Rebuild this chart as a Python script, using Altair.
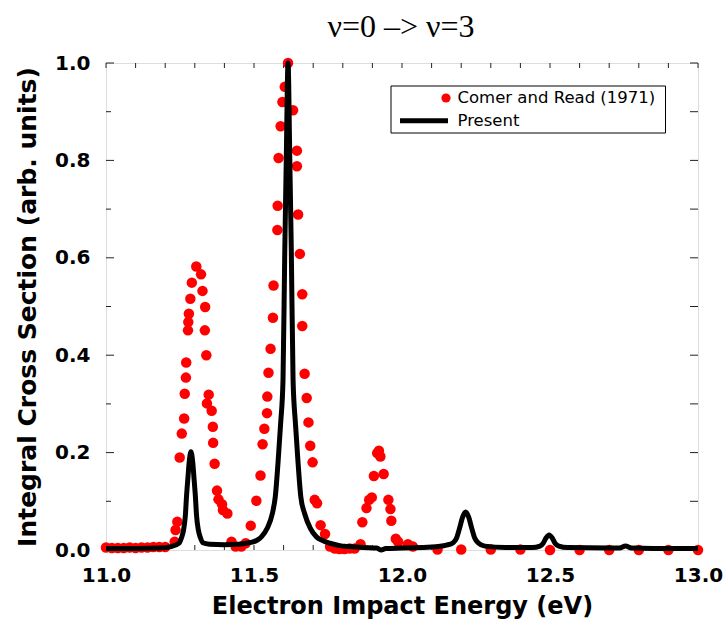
import altair as alt
import pandas as pd

# ---------------- data ----------------
exp_energy = [
    11.00, 11.02, 11.04, 11.06, 11.08, 11.10, 11.12, 11.14, 11.16, 11.18, 11.20,
    11.232, 11.235, 11.241, 11.249, 11.256, 11.264, 11.266, 11.270, 11.271,
    11.277, 11.278, 11.280, 11.285, 11.290, 11.305, 11.321, 11.326, 11.335,
    11.334, 11.339, 11.347, 11.341, 11.357, 11.361, 11.362, 11.367, 11.375,
    11.380, 11.392, 11.395, 11.410, 11.424, 11.438, 11.457, 11.472,
    11.489, 11.508, 11.522, 11.529, 11.535, 11.544, 11.545, 11.549, 11.556,
    11.564, 11.566, 11.579, 11.580, 11.583, 11.590, 11.596, 11.604, 11.615,
    11.632, 11.645, 11.645, 11.649, 11.655, 11.663, 11.663, 11.671, 11.678,
    11.684, 11.690, 11.698, 11.705, 11.713, 11.725, 11.740, 11.757,
    11.773, 11.789, 11.806, 11.823, 11.840, 11.860,
    11.866, 11.880, 11.889, 11.898, 11.905, 11.916, 11.922, 11.927, 11.938,
    11.954, 11.961, 11.964, 11.979, 11.987, 12.020, 12.037,
    12.12, 12.20, 12.30, 12.40, 12.50, 12.60, 12.70, 12.80, 12.90, 13.00,
]
exp_value = [
    0.005, 0.004, 0.004, 0.004, 0.005, 0.004, 0.005, 0.005, 0.006, 0.006, 0.006,
    0.017, 0.041, 0.058, 0.190, 0.239, 0.270, 0.321, 0.354, 0.385,
    0.451, 0.468, 0.485, 0.516, 0.549, 0.582, 0.566, 0.532, 0.499,
    0.451, 0.400, 0.319, 0.301, 0.286, 0.253, 0.220, 0.177, 0.122,
    0.104, 0.094, 0.082, 0.075, 0.017, 0.007, 0.007, 0.014,
    0.050, 0.101, 0.153, 0.217, 0.249, 0.281, 0.315, 0.364, 0.413,
    0.477, 0.543, 0.657, 0.707, 0.805, 0.870, 0.920, 0.951, 1.000,
    0.903, 0.820, 0.788, 0.689, 0.608, 0.525, 0.460, 0.362, 0.312,
    0.262, 0.214, 0.180, 0.103, 0.096, 0.051, 0.033, 0.007,
    0.003, 0.002, 0.002, 0.003, 0.003, 0.012,
    0.057, 0.086, 0.103, 0.108, 0.152, 0.199, 0.204, 0.192, 0.156,
    0.103, 0.084, 0.060, 0.023, 0.017, 0.012, 0.007,
    0.001, 0.001, 0.001, 0.001, 0.000, 0.000, 0.000, 0.000, 0.000, 0.000,
]

calc_energy = [
    11.00, 11.10, 11.18, 11.22, 11.247, 11.255, 11.262, 11.268, 11.272, 11.277,
    11.281, 11.287, 11.293, 11.297, 11.302, 11.306, 11.312, 11.319, 11.327,
    11.35, 11.40, 11.45, 11.485, 11.51, 11.525, 11.545, 11.562, 11.572, 11.581,
    11.590, 11.598, 11.604, 11.609, 11.615, 11.621, 11.626, 11.632, 11.640,
    11.649, 11.658, 11.671, 11.69, 11.711, 11.73, 11.756, 11.79, 11.823,
    11.87, 11.915, 11.93, 11.945, 12.00, 12.10, 12.15, 12.173, 12.184, 12.195,
    12.205, 12.215, 12.225, 12.235, 12.246, 12.257, 12.28, 12.35, 12.44,
    12.466, 12.477, 12.487, 12.497, 12.507, 12.517, 12.53, 12.56, 12.70,
    12.735, 12.755, 12.775, 12.85, 13.00,
]
calc_value = [
    0.003, 0.003, 0.004, 0.007, 0.014, 0.025, 0.041, 0.070, 0.110, 0.150,
    0.180, 0.202, 0.180, 0.150, 0.110, 0.070, 0.041, 0.025, 0.015,
    0.012, 0.011, 0.012, 0.015, 0.020, 0.027, 0.045, 0.075, 0.110, 0.178,
    0.260, 0.349, 0.616, 0.800, 1.000, 0.800, 0.616, 0.349, 0.260,
    0.178, 0.110, 0.075, 0.045, 0.027, 0.020, 0.014, 0.009, 0.007,
    0.005, 0.004, 0.000, 0.003, 0.004, 0.006, 0.010, 0.015, 0.024, 0.046,
    0.068, 0.078, 0.068, 0.046, 0.024, 0.015, 0.008, 0.005, 0.005,
    0.008, 0.014, 0.025, 0.031, 0.025, 0.014, 0.008, 0.005, 0.004,
    0.004, 0.008, 0.004, 0.003, 0.003,
]

series_names = ["Comer and Read (1971)", "Present"]
x_tick_values = [11.0, 11.1, 11.2, 11.3, 11.4, 11.5, 11.6, 11.7, 11.8, 11.9, 12.0,
                 12.1, 12.2, 12.3, 12.4, 12.5, 12.6, 12.7, 12.8, 12.9, 13.0]
x_label_values = [11.0, 11.5, 12.0, 12.5, 13.0]
y_minor_values = [0.1, 0.3, 0.5, 0.7, 0.9]
y_label_values = [0.0, 0.2, 0.4, 0.6, 0.8, 1.0]

title_text = "ν=0 –> ν=3"
x_title = "Electron Impact Energy (eV)"
y_title = "Integral Cross Section (arb. units)"

# ---------------- chart ----------------
W, H = 592, 487
BOLD = "DejaVu Sans"

exp_df = pd.DataFrame({"E": exp_energy, "v": exp_value})
calc_df = pd.DataFrame({"E": calc_energy, "v": calc_value})
xt_df = pd.DataFrame({"t": x_tick_values})
ymin_df = pd.DataFrame({"t": y_minor_values})
ymaj_df = pd.DataFrame({"t": y_label_values})
one = pd.DataFrame({"a": [0]})

xscale = alt.Scale(domain=[11.0, 13.0], nice=False, zero=False)
yscale = alt.Scale(domain=[0.0, 1.0], nice=False, zero=False)

xaxis = alt.Axis(title=x_title, values=x_label_values, format=".1f",
                 labelFont=BOLD, labelFontWeight="bold", labelFontSize=20,
                 labelColor="black", labelPadding=15, labelFlush=False,
                 labelOverlap=False, ticks=False, domain=False, grid=False,
                 titleFont=BOLD, titleFontWeight="bold", titleFontSize=24,
                 titleColor="black", titlePadding=9)
yaxis = alt.Axis(title=y_title, values=y_label_values, format=".1f",
                 labelFont=BOLD, labelFontWeight="bold", labelFontSize=20,
                 labelColor="black", labelPadding=16, labelFlush=False,
                 labelOverlap=False, ticks=False, domain=False, grid=False,
                 titleFont=BOLD, titleFontWeight="bold", titleFontSize=25,
                 titleColor="black", titlePadding=14)


def X(f):
    return alt.X(f"{f}:Q", scale=xscale, axis=xaxis)


def Y(f):
    return alt.Y(f"{f}:Q", scale=yscale, axis=yaxis)


points = alt.Chart(exp_df).mark_circle(color="#ff0000", size=110, opacity=1).encode(
    x=X("E"), y=Y("v"))

line = alt.Chart(calc_df).mark_line(color="black", strokeWidth=5,
                                     interpolate="monotone").encode(
    x=X("E"), y=Y("v"))

tick_style = dict(color="#222", strokeWidth=1)
xt_bottom = alt.Chart(xt_df).mark_rule(**tick_style).encode(
    x=X("t"), y=alt.value(H), y2=alt.value(H - 5))
xt_top = alt.Chart(xt_df).mark_rule(**tick_style).encode(
    x=X("t"), y=alt.value(0), y2=alt.value(5))
yt_left_min = alt.Chart(ymin_df).mark_rule(**tick_style).encode(
    y=Y("t"), x=alt.value(0), x2=alt.value(5))
yt_left_maj = alt.Chart(ymaj_df).mark_rule(**tick_style).encode(
    y=Y("t"), x=alt.value(0), x2=alt.value(8))
yt_right_min = alt.Chart(ymin_df).mark_rule(**tick_style).encode(
    y=Y("t"), x=alt.value(W), x2=alt.value(W - 8))
yt_right_maj = alt.Chart(ymaj_df).mark_rule(**tick_style).encode(
    y=Y("t"), x=alt.value(W), x2=alt.value(W - 8))

# chart title drawn as a text mark above the plot area
title_mark = alt.Chart(one).mark_text(align="center", baseline="alphabetic",
                                      font="Liberation Serif", fontSize=32,
                                      color="black").encode(
    x=alt.value(W / 2 - 1), y=alt.value(-26.5), text=alt.value(title_text))

# legend (drawn by hand: a dot entry and a line entry in one framed box)
leg_box = alt.Chart(one).mark_rect(fill="white", stroke="black", strokeWidth=1).encode(
    x=alt.value(285), x2=alt.value(559.5), y=alt.value(23), y2=alt.value(70))
leg_dot = alt.Chart(one).mark_circle(color="#ff0000", size=85, opacity=1).encode(
    x=alt.value(340), y=alt.value(35))
leg_line = alt.Chart(one).mark_rule(color="black", strokeWidth=5).encode(
    x=alt.value(294), x2=alt.value(342), y=alt.value(57.7))
leg_t1 = alt.Chart(one).mark_text(align="left", baseline="middle", font="DejaVu Sans",
                                  fontSize=16.5, color="black").encode(
    x=alt.value(351.5), y=alt.value(35), text=alt.value(series_names[0]))
leg_t2 = alt.Chart(one).mark_text(align="left", baseline="middle", font="DejaVu Sans",
                                  fontSize=16.5, color="black").encode(
    x=alt.value(351.5), y=alt.value(57.7), text=alt.value(series_names[1]))

chart = alt.layer(
    xt_bottom, xt_top, yt_left_min, yt_left_maj, yt_right_min, yt_right_maj,
    points, line, leg_box, leg_dot, leg_line, leg_t1, leg_t2, title_mark,
).properties(
    width=W, height=H,
    autosize=alt.AutoSizeParams(type="none"),
    padding={"left": 106, "top": 63, "right": 27, "bottom": 72},
).configure_view(stroke="#222", strokeWidth=1).configure(background="white")

chart.save("out.html", embed_options={"renderer": "svg", "actions": False})
